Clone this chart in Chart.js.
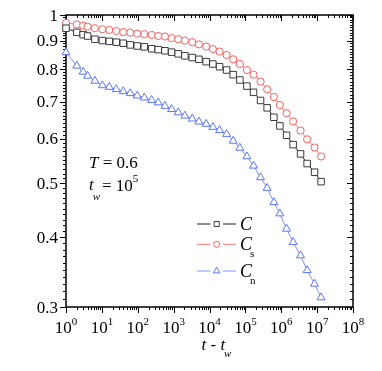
<!DOCTYPE html>
<html>
<head>
<meta charset="utf-8">
<script src="https://cdn.jsdelivr.net/npm/chart.js@4.4.1/dist/chart.umd.min.js"></script>
<style>
html,body{margin:0;padding:0;background:#fff;}
#c{display:block;}
</style>
</head>
<body>
<canvas id="c" width="382" height="371"></canvas>
<script>
// ---- data ----
const times = [1, 2, 3, 4, 6.4, 10.3, 16.1, 25.2, 39.5, 61.8, 96.9, 152, 244, 372, 572, 880, 1343, 2064, 3297, 5070, 8093, 12440, 19100, 29940, 45710, 70310, 110200, 169100, 265000, 404500, 622300, 914000, 1406000, 2145000, 3450000, 5260000, 8470000, 12900000];
const seriesC  = [0.947, 0.931, 0.922, 0.917, 0.905, 0.900, 0.897, 0.894, 0.890, 0.884, 0.880, 0.877, 0.870, 0.867, 0.863, 0.858, 0.852, 0.845, 0.839, 0.833, 0.825, 0.817, 0.808, 0.797, 0.782, 0.765, 0.746, 0.727, 0.703, 0.682, 0.656, 0.633, 0.609, 0.586, 0.564, 0.542, 0.523, 0.503];
const seriesCs = [0.968, 0.962, 0.957, 0.953, 0.947, 0.943, 0.940, 0.936, 0.932, 0.930, 0.926, 0.924, 0.921, 0.917, 0.915, 0.909, 0.905, 0.900, 0.894, 0.886, 0.878, 0.869, 0.860, 0.848, 0.833, 0.817, 0.797, 0.782, 0.760, 0.736, 0.713, 0.690, 0.667, 0.645, 0.621, 0.599, 0.579, 0.558];
const seriesCn = [0.857, 0.811, 0.791, 0.778, 0.762, 0.748, 0.743, 0.736, 0.730, 0.724, 0.717, 0.711, 0.704, 0.697, 0.687, 0.678, 0.669, 0.660, 0.652, 0.644, 0.638, 0.630, 0.622, 0.612, 0.595, 0.578, 0.558, 0.537, 0.512, 0.490, 0.462, 0.441, 0.414, 0.392, 0.371, 0.349, 0.330, 0.312];
const yTickValues = [0.3, 0.4, 0.5, 0.6, 0.7, 0.8, 0.9, 1];
const yTickLabels = ['0.3', '0.4', '0.5', '0.6', '0.7', '0.8', '0.9', '1'];
const xTickExponents = [0, 1, 2, 3, 4, 5, 6, 7, 8];
const legendNames = [['C', ''], ['C', 's'], ['C', 'n']];

const COL_C = '#3a3a3a', COL_S = '#ff5c5c', COL_N = '#5a74ff';
const LINE_C = '#202020', LINE_S = '#ff7a7a', LINE_N = '#7f93ff';

function pts(ys){ return times.map((t,i)=>({x:t, y:ys[i]})); }

const SERIF = '"Liberation Serif", "Times New Roman", serif';

const decor = {
  id: 'decor',
  beforeDatasetsDraw(chart){
    const {ctx, chartArea:a, scales:{x, y}} = chart;
    ctx.save();
    ctx.strokeStyle = '#000';
    ctx.lineWidth = 1;
    const ln = (x1,y1,x2,y2)=>{ctx.beginPath();ctx.moveTo(x1,y1);ctx.lineTo(x2,y2);ctx.stroke();};
    // x ticks: bottom outward, top inward
    for (let e = xTickExponents[0]; e <= xTickExponents[xTickExponents.length-1]; e++){
      for (let m = 1; m <= 9; m++){
        const v = m * Math.pow(10, e);
        if (v > x.max * 1.0001) break;
        const px = Math.round(x.getPixelForValue(v)) + 0.5;
        const L = m === 1 ? 6 : 3;
        ln(px, a.bottom, px, a.bottom + L);
        ln(px, a.top, px, a.top + L);
      }
    }
    // y ticks every 0.01, left outward, right inward
    for (let i = 30; i <= 100; i++){
      const v = i / 100;
      const py = Math.round(y.getPixelForValue(v)) + 0.5;
      const L = (i % 10 === 0) ? 6 : 3;
      ln(a.left - L, py, a.left, py);
      ln(a.right - L, py, a.right, py);
    }
    ctx.lineWidth = 1.5;
    ctx.strokeRect(a.left, a.top, a.right - a.left, a.bottom - a.top);
    ctx.restore();
  },
  afterDraw(chart){
    const {ctx, chartArea:a, scales:{x, y}} = chart;
    ctx.save();
    ctx.fillStyle = '#000';
    ctx.textBaseline = 'alphabetic';
    // y labels
    ctx.font = '17px ' + SERIF;
    ctx.textAlign = 'right';
    yTickValues.forEach((v,i)=>{
      const py = y.getPixelForValue(v);
      ctx.fillText(yTickLabels[i], a.left - 8, py + 5.5);
    });
    // x labels 10^n
    ctx.textAlign = 'left';
    xTickExponents.forEach(e=>{
      const px = x.getPixelForValue(Math.pow(10, e));
      ctx.font = '17px ' + SERIF;
      const w1 = ctx.measureText('10').width;
      ctx.font = '11px ' + SERIF;
      const w2 = ctx.measureText(String(e)).width;
      const start = px - (w1 + w2) / 2;
      ctx.font = '17px ' + SERIF;
      ctx.fillText('10', start, a.bottom + 26);
      ctx.font = '11px ' + SERIF;
      ctx.fillText(String(e), start + w1, a.bottom + 18);
    });
    // x title: t - t_w
    const cx = (a.left + a.right) / 2;
    ctx.font = 'italic 17px ' + SERIF;
    let tx = cx - 8;
    ctx.fillText('t - t', tx, a.bottom + 43);
    const wt = ctx.measureText('t - t').width;
    ctx.font = 'italic 11px ' + SERIF;
    ctx.fillText('w', tx + wt - 1, a.bottom + 50);

    // annotation
    let ax = 89;
    ctx.font = 'italic 17px ' + SERIF;
    ctx.fillText('T', ax, 168);
    let w = ctx.measureText('T').width;
    ctx.font = '17px ' + SERIF;
    ctx.fillText(' = 0.6', ax + w, 168);
    ctx.font = 'italic 17px ' + SERIF;
    ctx.fillText('t', ax, 190);
    w = ctx.measureText('t').width;
    ctx.font = 'italic 11px ' + SERIF;
    ctx.fillText('w', ax + w - 1, 200);
    ctx.font = '17px ' + SERIF;
    const eqx = 102;
    ctx.fillText('= 10', eqx, 191);
    const weq = ctx.measureText('= 10').width;
    ctx.font = '11px ' + SERIF;
    ctx.fillText('5', eqx + weq, 182);

    // legend
    const rows = [224, 244.3, 271];
    chart.data.datasets.forEach((ds, i)=>{
      const ry = rows[i];
      ctx.strokeStyle = ds.borderColor;
      ctx.lineWidth = 1;
      ctx.beginPath();
      ctx.moveTo(197, ry); ctx.lineTo(210.5, ry);
      ctx.moveTo(223, ry); ctx.lineTo(236, ry);
      ctx.stroke();
      ctx.strokeStyle = ds.pointBorderColor;
      ctx.fillStyle = '#fff';
      ctx.lineWidth = 1;
      ctx.beginPath();
      const mx = 216.7;
      if (ds.pointStyle === 'rect'){
        ctx.rect(mx - 2.5, ry - 2.5, 5, 5);
      } else if (ds.pointStyle === 'circle'){
        ctx.arc(mx, ry, 3, 0, Math.PI * 2);
      } else {
        const r = 3.8;
        ctx.moveTo(mx, ry - r);
        ctx.lineTo(mx + r * Math.sin(2*Math.PI/3), ry + r/2);
        ctx.lineTo(mx - r * Math.sin(2*Math.PI/3), ry + r/2);
        ctx.closePath();
      }
      ctx.fill(); ctx.stroke();
      ctx.fillStyle = '#000';
      ctx.font = 'italic 18px ' + SERIF;
      ctx.fillText(legendNames[i][0], 240, ry + 6);
      if (legendNames[i][1]){
        ctx.font = '11px ' + SERIF;
        ctx.fillText(legendNames[i][1], 250, ry + 13);
      }
    });
    ctx.restore();
  }
};

new Chart(document.getElementById('c'), {
  type: 'line',
  data: {
    datasets: [
      {label: 'C', data: pts(seriesC), borderColor: LINE_C, pointBorderColor: COL_C, pointBackgroundColor: '#fff', pointStyle: 'rect', pointRadius: 4.6, pointBorderWidth: 1, borderWidth: 1, clip: false},
      {label: 'Cs', data: pts(seriesCs), borderColor: LINE_S, pointBorderColor: COL_S, pointBackgroundColor: '#fff', pointStyle: 'circle', pointRadius: 3.6, pointBorderWidth: 1, borderWidth: 1, clip: false},
      {label: 'Cn', data: pts(seriesCn), borderColor: LINE_N, pointBorderColor: COL_N, pointBackgroundColor: '#fff', pointStyle: 'triangle', pointRadius: 4.6, pointBorderWidth: 1, borderWidth: 1, clip: false}
    ]
  },
  options: {
    responsive: false,
    animation: false,
    events: [],
    layout: {padding: {left: 66, right: 29, top: 15, bottom: 64}},
    plugins: {legend: {display: false}, tooltip: {enabled: false}},
    elements: {line: {tension: 0}},
    scales: {
      x: {type: 'logarithmic', min: 1, max: 1e8, display: false},
      y: {type: 'logarithmic', min: 0.3, max: 1, display: false}
    }
  },
  plugins: [decor]
});
</script>
</body>
</html>
